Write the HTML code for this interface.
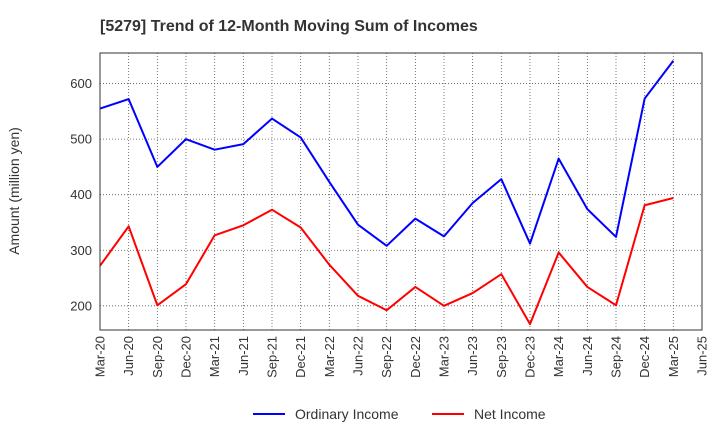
<!DOCTYPE html>
<html><head><meta charset="utf-8"><style>
body{margin:0;background:#fff;font-family:"Liberation Sans",sans-serif}
</style></head><body>
<svg id="c" width="720" height="440" xmlns="http://www.w3.org/2000/svg">
<text x="100" y="31" font-size="16" font-weight="bold" fill="#333">[5279]  Trend of 12-Month Moving Sum of Incomes</text>
<text transform="translate(19,191) rotate(-90)" text-anchor="middle" font-size="14" fill="#333">Amount (million yen)</text>
<g id="grid"></g><g id="ticks"></g><g id="series"></g>
<rect x="100" y="53" width="602" height="277" fill="none" stroke="#333" stroke-width="1"/>
<g>
<line x1="253" y1="414" x2="285" y2="414" stroke="#0000ff" stroke-width="2"/>
<text x="295" y="419" font-size="14" fill="#333">Ordinary Income</text>
<line x1="432" y1="414" x2="464" y2="414" stroke="#ff0000" stroke-width="2"/>
<text x="474" y="419" font-size="14" fill="#333">Net Income</text>
</g>
</svg>
<script>
const categories=["Mar-20","Jun-20","Sep-20","Dec-20","Mar-21","Jun-21","Sep-21","Dec-21","Mar-22","Jun-22","Sep-22","Dec-22","Mar-23","Jun-23","Sep-23","Dec-23","Mar-24","Jun-24","Sep-24","Dec-24","Mar-25","Jun-25"];
const ordinaryIncome=[555,572,450,500,481,491,537,503,423,346,308,357,325,385,428,312,465,374,324,573,641];
const netIncome=[272,343,201,239,327,345,373,341,274,218,192,234,200,223,257,167,296,234,201,381,394];
const yTicks=[200,300,400,500,600];
const NS="http://www.w3.org/2000/svg";
const X0=100,X1=702,Y0=53,Y1=330,YMIN=156.5,YMAX=655;
const xs=i=>X0+i*(X1-X0)/(categories.length-1);
const ys=v=>Y1-(v-YMIN)/(YMAX-YMIN)*(Y1-Y0);
function mk(t,a,p){const e=document.createElementNS(NS,t);for(const k in a)e.setAttribute(k,a[k]);p.appendChild(e);return e;}
const grid=document.getElementById('grid'),ticks=document.getElementById('ticks'),ser=document.getElementById('series');
categories.forEach((c,i)=>{
 const x=xs(i);
 const l=mk('line',{x1:x,x2:x,y1:Y0,y2:Y1,stroke:'#555','stroke-width':0.8,'stroke-dasharray':'1,2'},grid);
 
 
 const t=mk('text',{transform:`translate(${x+4.5},${Y1+6}) rotate(-90)`,'text-anchor':'end','font-size':13,fill:'#333'},ticks);
 t.textContent=c;
 
 
});
yTicks.forEach(v=>{
 const y=ys(v);
 const l=mk('line',{x1:X0,x2:X1,y1:y,y2:y,stroke:'#555','stroke-width':0.8,'stroke-dasharray':'1,2'},grid);
 
 
 const t=mk('text',{x:X0-8,y:y+4.5,'text-anchor':'end','font-size':13,fill:'#333'},ticks);
 t.textContent=v;
 
 
});
function line(d,col,name){
 const p=mk('polyline',{points:d.map((v,i)=>xs(i)+','+ys(v)).join(' '),fill:'none',stroke:col,'stroke-width':2,'stroke-linejoin':'round'},ser);
 
 
}
line(ordinaryIncome,'#0000ff','ordinary-income-line');
line(netIncome,'#ff0000','net-income-line');
</script>
</body></html>
